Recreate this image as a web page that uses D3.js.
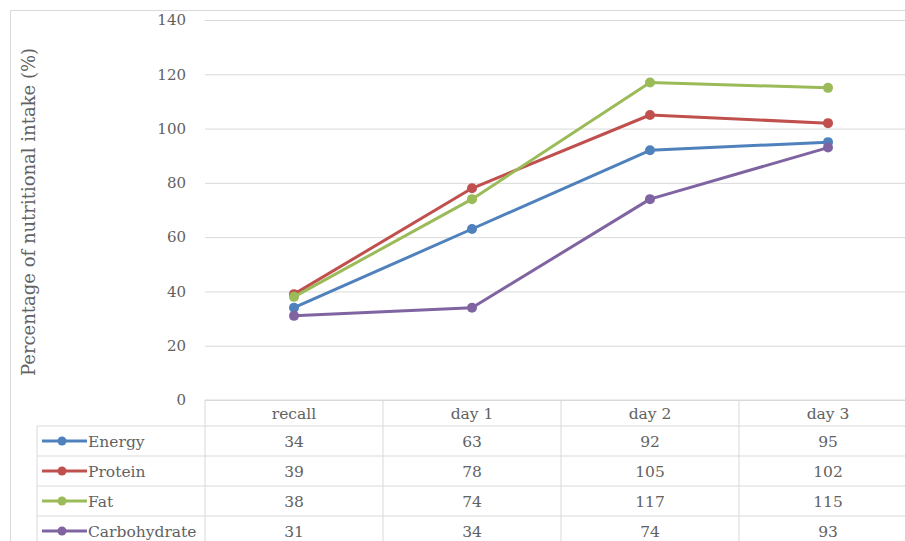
<!DOCTYPE html>
<html>
<head>
<meta charset="utf-8">
<script src="https://cdn.jsdelivr.net/npm/d3@7"></script>
<style>
  html, body { margin: 0; padding: 0; background: #fff; overflow: hidden; }
</style>
</head>
<body>
<div id="chart"></div>
<script>
const categories = ["recall", "day 1", "day 2", "day 3"];
const seriesNames = ["Energy", "Protein", "Fat", "Carbohydrate"];
const energy = [34, 63, 92, 95];
const protein = [39, 78, 105, 102];
const fat = [38, 74, 117, 115];
const carbohydrate = [31, 34, 74, 93];
const yTicks = [0, 20, 40, 60, 80, 100, 120, 140];
const colors = ["#4F81BD", "#C0504D", "#9BBB59", "#8064A2"];

const series = seriesNames.map((name, i) => ({
    name: name,
    values: [energy, protein, fat, carbohydrate][i],
    color: colors[i]
}));

const width = 905, height = 541;
const margin = { top: 20, left: 205, right: -12, bottom: 141 };
const rowH = 30, headerH = 26, tableLeft = 37;
const font = "'DejaVu Serif', serif";
const textColor = "#626262";
const gridColor = "#D9D9D9";
const cellFont = 15.5;

const svg = d3.select("#chart").append("svg")
    .attr("width", width)
    .attr("height", height)
    .attr("font-family", font);

const xScale = d3.scaleBand()
    .domain(categories)
    .range([margin.left, width - margin.right])
    .padding(0);

const yScale = d3.scaleLinear()
    .domain([0, 140])
    .range([height - margin.bottom, margin.top]);

// outer chart frame
svg.append("path")
    .attr("d", `M10.5,${height} V10.5 H${width}`)
    .attr("fill", "none")
    .attr("stroke", "#D9D9D9")
    .attr("stroke-width", 1);

// gridlines + y axis labels
const yAxis = d3.axisLeft(yScale)
    .tickValues(yTicks)
    .tickSize(-(xScale.range()[1] - margin.left))
    .tickPadding(19);

svg.append("g")
    .attr("transform", `translate(${margin.left},0)`)
    .call(yAxis)
    .call(g => g.select(".domain").remove())
    .call(g => g.selectAll(".tick line").attr("stroke", gridColor))
    .call(g => g.selectAll(".tick text")
        .attr("fill", textColor)
        .attr("font-size", 15)
        .attr("font-family", font));

// y title
svg.append("text")
    .attr("transform", `translate(35,212) rotate(-90)`)
    .attr("text-anchor", "middle")
    .attr("font-size", 18)
    .attr("fill", textColor)
    .text("Percentage of nutritional intake (%)");

// data table
const y0 = yScale(0);
const table = svg.append("g");
const rowTop = i => y0 + headerH + i * rowH;
const tableBottom = rowTop(series.length);

// horizontal lines
table.append("line")
    .attr("x1", margin.left).attr("x2", xScale.range()[1])
    .attr("y1", y0).attr("y2", y0)
    .attr("stroke", gridColor);
d3.range(series.length + 1).forEach(i => {
    table.append("line")
        .attr("x1", tableLeft).attr("x2", xScale.range()[1])
        .attr("y1", rowTop(i)).attr("y2", rowTop(i))
        .attr("stroke", gridColor);
});
// vertical lines
table.append("line")
    .attr("x1", tableLeft).attr("x2", tableLeft)
    .attr("y1", rowTop(0)).attr("y2", tableBottom)
    .attr("stroke", gridColor);
categories.forEach(c => {
    table.append("line")
        .attr("x1", xScale(c)).attr("x2", xScale(c))
        .attr("y1", y0).attr("y2", tableBottom)
        .attr("stroke", gridColor);
});

// header labels
table.selectAll("text.cat")
    .data(categories)
    .join("text")
    .attr("class", "cat")
    .attr("x", d => xScale(d) + xScale.bandwidth() / 2)
    .attr("y", y0 + headerH / 2 + 6)
    .attr("text-anchor", "middle")
    .attr("font-size", cellFont)
    .attr("fill", textColor)
    .text(d => d);

// rows
series.forEach((s, i) => {
    const cy = rowTop(i) + rowH / 2;
    const key = table.append("g");
    key.append("line")
        .attr("x1", tableLeft + 5).attr("x2", tableLeft + 50)
        .attr("y1", cy).attr("y2", cy)
        .attr("stroke", s.color).attr("stroke-width", 3);
    key.append("circle")
        .attr("cx", tableLeft + 25).attr("cy", cy).attr("r", 4.5)
        .attr("fill", s.color);
    key.append("text")
        .attr("x", tableLeft + 51).attr("y", cy + 6)
        .attr("font-size", cellFont)
        .attr("fill", textColor)
        .text(s.name);
    table.append("g").selectAll("text")
        .data(s.values)
        .join("text")
        .attr("x", (d, j) => xScale(categories[j]) + xScale.bandwidth() / 2)
        .attr("y", cy + 6)
        .attr("text-anchor", "middle")
        .attr("font-size", cellFont)
        .attr("fill", textColor)
        .text(d => d);
});

// lines
const line = d3.line()
    .x((d, j) => xScale(categories[j]) + xScale.bandwidth() / 2)
    .y(d => yScale(d));

const lines = svg.append("g");
series.forEach(s => {
    lines.append("path")
        .datum(s.values)
        .attr("d", line)
        .attr("fill", "none")
        .attr("stroke", s.color)
        .attr("stroke-width", 3)
        .attr("stroke-linejoin", "round");
    lines.append("g").selectAll("circle")
        .data(s.values)
        .join("circle")
        .attr("cx", (d, j) => xScale(categories[j]) + xScale.bandwidth() / 2)
        .attr("cy", d => yScale(d))
        .attr("r", 5)
        .attr("fill", s.color);
});
</script>
</body>
</html>
